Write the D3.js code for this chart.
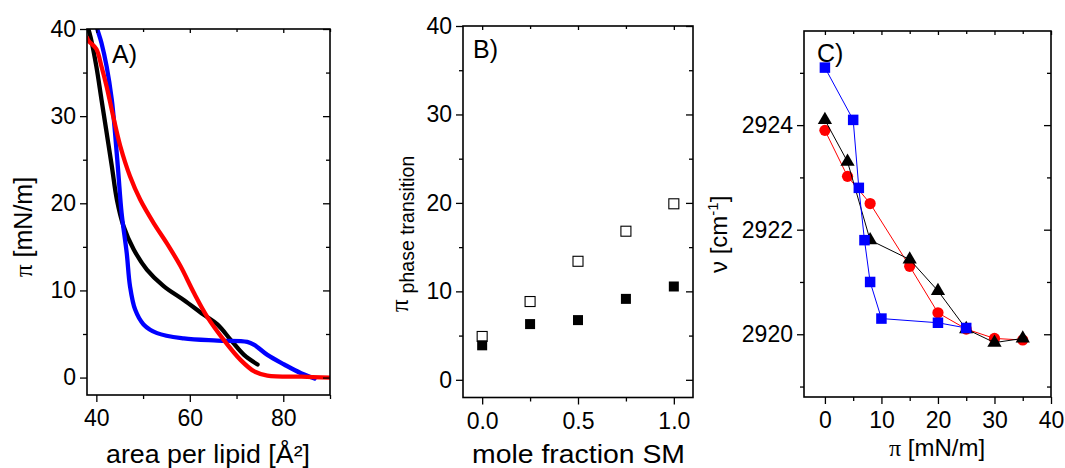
<!DOCTYPE html>
<html><head><meta charset="utf-8">
<script src="https://cdn.jsdelivr.net/npm/d3@7"></script>
<style>
body{margin:0;background:#fff;}
svg text{font-family:"Liberation Sans",Arial,sans-serif;fill:#000;}
</style></head>
<body><svg id="c" width="1065" height="468"></svg>
<script>
// ---- Panel A: isotherms ----
const areaBlack = [38.0,38.8,40.0,41.1,42.2,43.3,44.4,45.8,48.0,50.8,54.4,58.7,63.0,65.9,68.8,71.6,74.5];
const piBlack   = [40.5,39.0,35.7,31.9,28.1,24.3,20.4,17.4,14.7,12.4,10.5,8.9,7.2,6.1,4.3,2.6,1.5];
const areaRed = [38.0,38.4,40.0,41.1,42.2,43.6,45.1,47.2,49.4,52.3,55.1,58.0,60.9,63.7,67.3,70.9,73.8,76.6,83.9,90.0];
const piRed   = [39.0,38.6,37.7,35.7,33.4,30.0,26.6,23.1,20.4,17.7,15.4,12.8,9.7,7.0,4.3,2.0,0.7,0.23,0.1,0.0];
const areaBlue = [39.8,40.2,41.1,42.2,43.3,44.0,44.7,45.4,46.5,47.2,48.3,50.1,53.0,58.7,65.9,72.3,73.8,76.6,80.2,83.8,86.7];
const piBlue   = [41.0,40.0,38.4,35.7,31.9,28.1,23.5,18.9,14.3,10.5,7.8,6.1,5.1,4.5,4.25,4.1,3.75,2.6,1.5,0.5,-0.1];
const ticksAx = [40,60,80], minorAx = [50,70,90];
const ticksAy = [0,10,20,30,40], minorAy = [5,15,25,35];

// ---- Panel B: transition pressures ----
const fracSM = [0,0.25,0.5,0.75,1.0];
const piOpen   = [4.9,8.85,13.4,16.8,19.9];
const piFilled = [3.9,6.3,6.75,9.15,10.55];
const ticksBx = [0,0.5,1.0], minorBx = [0.25,0.75];
const ticksBy = [0,10,20,30,40], minorBy = [5,15,25,35];

// ---- Panel C: wavenumber vs pressure ----
const piBlueC = [0,5,6,7,8,10,20,25];
const nuBlueC = [2925.1,2924.1,2922.8,2921.8,2921.0,2920.3,2920.22,2920.12];
const piBlackC = [0,4,8,15,20,25,30,35];
const nuBlackC = [2924.1,2923.3,2921.8,2921.43,2920.83,2920.1,2919.84,2919.92];
const piRedC = [0,4,8,15,20,25,30,35];
const nuRedC = [2923.9,2923.02,2922.5,2921.3,2920.41,2920.1,2919.92,2919.89];
const ticksCx = [0,10,20,30,40], minorCx = [5,15,25,35];
const ticksCy = [2920,2922,2924], minorCy = [2919,2921,2923,2925];

const svg = d3.select("#c");
const TF = 23;

function frame(g, x, y, tx, mx, ty, my, xfmt, yfmt) {
  const [x0,x1] = x.range(), [y1,y0] = y.range();
  const style = sel => { sel.select(".domain").remove(); sel.selectAll("line").attr("stroke","#000").attr("stroke-width",1.3); sel.selectAll("text").attr("font-size",TF).attr("fill","#000").attr("font-family","Liberation Sans, Arial, sans-serif"); };
  g.append("g").attr("transform",`translate(0,${y1})`).call(d3.axisBottom(x).tickValues(tx).tickSize(7).tickPadding(8).tickFormat(xfmt)).call(style);
  g.append("g").attr("transform",`translate(0,${y1})`).call(d3.axisBottom(x).tickValues(mx).tickSize(4).tickFormat("")).call(style);
  g.append("g").attr("transform",`translate(${x0},0)`).call(d3.axisLeft(y).tickValues(ty).tickSize(7).tickPadding(4).tickFormat(yfmt)).call(style);
  g.append("g").attr("transform",`translate(${x0},0)`).call(d3.axisLeft(y).tickValues(my).tickSize(4).tickFormat("")).call(style);
  g.append("g").attr("transform",`translate(${x1},0)`).call(d3.axisRight(y).tickValues(ty).tickSize(-7).tickFormat("")).call(style);
  g.append("g").attr("transform",`translate(${x1},0)`).call(d3.axisRight(y).tickValues(my).tickSize(-4).tickFormat("")).call(style);
  g.append("g").attr("transform",`translate(0,${y0})`).call(d3.axisTop(x).tickValues(tx).tickSize(-4).tickFormat("")).call(style);
  g.append("g").attr("transform",`translate(0,${y0})`).call(d3.axisTop(x).tickValues(mx).tickSize(-3).tickFormat("")).call(style);
  g.append("rect").attr("x",x0).attr("y",y0).attr("width",x1-x0).attr("height",y1-y0)
    .attr("fill","none").attr("stroke","#000").attr("stroke-width",1.6);
}

// ================= Panel A =================
{
  const x = d3.scaleLinear().domain([38,90]).range([87,330]);
  const y = d3.scaleLinear().domain([-2,40]).range([395,29]);
  const g = svg.append("g");
  g.append("clipPath").attr("id","clipA").append("rect").attr("x",87).attr("y",29).attr("width",243).attr("height",366);
  const line = d3.line().x(d=>x(d[0])).y(d=>y(d[1])).curve(d3.curveCatmullRom.alpha(0.5));
  const cg = g.append("g").attr("clip-path","url(#clipA)");
  [[areaBlack,piBlack,"#000"],[areaBlue,piBlue,"#00f"],[areaRed,piRed,"#f00"]].forEach(([a,p,c])=>{
    cg.append("path").attr("d",line(a.map((v,i)=>[v,p[i]]))).attr("fill","none")
      .attr("stroke",c).attr("stroke-width",4.3).attr("stroke-linecap","round").attr("stroke-linejoin","round");
  });
  frame(g,x,y,ticksAx,minorAx,ticksAy,minorAy,d3.format("d"),d3.format("d"));
  g.append("text").attr("x",112).attr("y",63).attr("font-size",25).text("A)");
  g.append("text").attr("x",106).attr("y",463).attr("font-size",26)
    .attr("textLength",204).attr("lengthAdjust","spacingAndGlyphs").text("area per lipid [Å²]");
  const t = g.append("text").attr("transform","translate(32,277) rotate(-90)").attr("font-size",25);
  t.append("tspan").attr("font-family","Liberation Serif, Times New Roman, serif").text("π");
  t.append("tspan").text(" [mN/m]");
}

// ================= Panel B =================
{
  const x = d3.scaleLinear().domain([-0.1,1.1]).range([463,693]);
  const y = d3.scaleLinear().domain([-2,40]).range([397.5,26]);
  const g = svg.append("g");
  frame(g,x,y,ticksBx,minorBx,ticksBy,minorBy,d3.format(".1f"),d3.format("d"));
  const s = 10;
  g.selectAll(".o").data(fracSM).enter().append("rect")
    .attr("x",(d)=>x(d)-s/2).attr("y",(d,i)=>y(piOpen[i])-s/2).attr("width",s).attr("height",s)
    .attr("fill","#fff").attr("stroke","#000").attr("stroke-width",1.1);
  g.selectAll(".f").data(fracSM).enter().append("rect")
    .attr("x",(d)=>x(d)-s/2).attr("y",(d,i)=>y(piFilled[i])-s/2).attr("width",s).attr("height",s)
    .attr("fill","#000");
  g.append("text").attr("x",473).attr("y",58).attr("font-size",25).text("B)");
  g.append("text").attr("x",472).attr("y",463).attr("font-size",26)
    .attr("textLength",213).attr("lengthAdjust","spacingAndGlyphs").text("mole fraction SM");
  const t = g.append("text").attr("transform","translate(408,312) rotate(-90)").attr("font-size",25);
  t.append("tspan").attr("font-family","Liberation Serif, Times New Roman, serif").text("π");
  t.append("tspan").attr("dx",6).attr("dy",6).attr("font-size",19.5).text("phase transition");
}

// ================= Panel C =================
{
  const x = d3.scaleLinear().domain([-3.7,40]).range([804,1051]);
  const y = d3.scaleLinear().domain([2918.8,2925.8]).range([397,31]);
  const g = svg.append("g");
  frame(g,x,y,ticksCx,minorCx,ticksCy,minorCy,d3.format("d"),d3.format("d"));
  const line = d3.line().x(d=>x(d[0])).y(d=>y(d[1]));
  g.append("path").attr("d",line(piRedC.map((v,i)=>[v,nuRedC[i]]))).attr("fill","none").attr("stroke","#f00").attr("stroke-width",1);
  g.selectAll(".rc").data(piRedC).enter().append("circle")
    .attr("cx",d=>x(d)).attr("cy",(d,i)=>y(nuRedC[i])).attr("r",5.6).attr("fill","#f00");
  g.append("path").attr("d",line(piBlackC.map((v,i)=>[v,nuBlackC[i]]))).attr("fill","none").attr("stroke","#000").attr("stroke-width",1);
  const tri = d3.symbol().type(d3.symbolTriangle).size(88);
  g.selectAll(".bt").data(piBlackC).enter().append("path")
    .attr("d",tri).attr("transform",(d,i)=>`translate(${x(d)},${y(nuBlackC[i])})`).attr("fill","#000");
  g.append("path").attr("d",line(piBlueC.map((v,i)=>[v,nuBlueC[i]]))).attr("fill","none").attr("stroke","#00f").attr("stroke-width",1);
  const s = 10.5;
  g.selectAll(".bs").data(piBlueC).enter().append("rect")
    .attr("x",d=>x(d)-s/2).attr("y",(d,i)=>y(nuBlueC[i])-s/2).attr("width",s).attr("height",s).attr("fill","#00f");
  g.append("text").attr("x",817).attr("y",62).attr("font-size",25).text("C)");
  const tx = g.append("text").attr("x",937).attr("y",456).attr("text-anchor","middle").attr("font-size",24);
  tx.append("tspan").attr("font-family","Liberation Serif, Times New Roman, serif").text("π");
  tx.append("tspan").text(" [mN/m]");
  const ty = g.append("text").attr("transform","translate(727,273) rotate(-90)").attr("font-size",24);
  ty.append("tspan").text("ν [cm");
  ty.append("tspan").attr("dy",-9).attr("font-size",15).text("-1");
  ty.append("tspan").attr("dy",9).text("]");
}
</script></body></html>
